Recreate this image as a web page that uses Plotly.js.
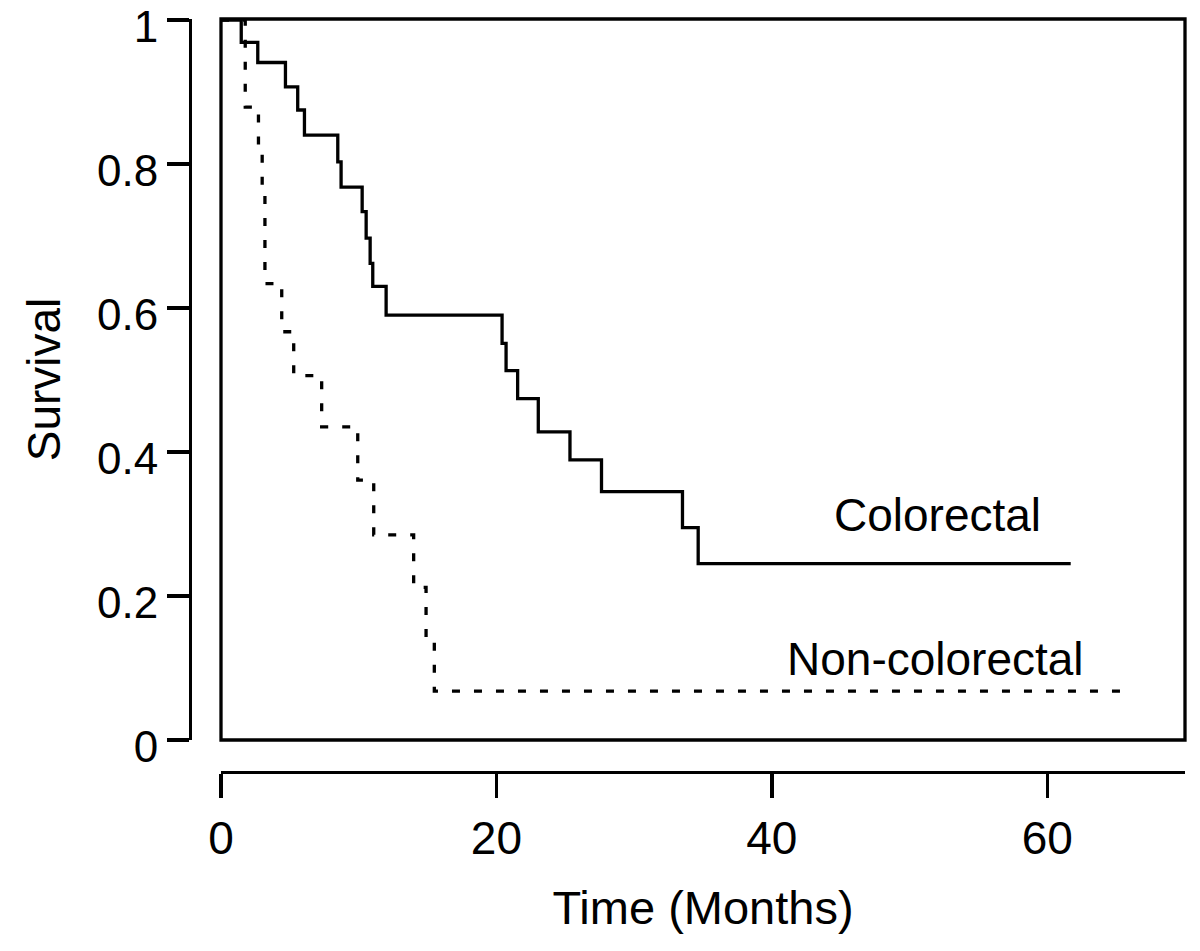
<!DOCTYPE html>
<html><head><meta charset="utf-8">
<script src="https://cdn.plot.ly/plotly-3.0.1.min.js"></script>
<style>html,body{margin:0;padding:0;background:#fff}</style>
</head><body><div id="chart" style="width:1200px;height:951px"></div>
<script>
// Kaplan-Meier step data
const colorectalTime = [0, 1.47, 2.67, 4.68, 5.57, 6.06, 8.48, 8.72, 10.25, 10.54, 10.83, 11.02, 11.99, 20.41, 20.70, 21.54, 23.04, 25.34, 27.63, 33.51, 34.65, 61.7];
const colorectalSurv = [1, 0.969, 0.941, 0.907, 0.875, 0.840, 0.803, 0.768, 0.734, 0.697, 0.662, 0.630, 0.590, 0.551, 0.513, 0.474, 0.428, 0.389, 0.345, 0.295, 0.245, 0.245];
const nonColorectalTime = [0, 1.76, 2.72, 2.99, 3.19, 4.41, 5.28, 7.31, 9.93, 11.09, 13.99, 14.89, 15.49, 65.3];
const nonColorectalSurv = [1, 0.879, 0.817, 0.761, 0.634, 0.567, 0.506, 0.435, 0.361, 0.285, 0.212, 0.139, 0.068, 0.068];
const xTickVals = [0, 20, 40, 60];
const xTickText = ['0', '20', '40', '60'];
const yTickVals = [0, 0.2, 0.4, 0.6, 0.8, 1];
const yTickText = ['0', '0.2', '0.4', '0.6', '0.8', '1'];
const seriesLabels = ['Colorectal', 'Non-colorectal'];

const FONT = 'Arial, "Liberation Sans", sans-serif';
const traces = [
  {x: colorectalTime, y: colorectalSurv, type: 'scatter', mode: 'lines', name: seriesLabels[0],
   line: {shape: 'hv', color: '#000', width: 3.3}, hoverinfo: 'skip'},
  {x: nonColorectalTime, y: nonColorectalSurv, type: 'scatter', mode: 'lines', name: seriesLabels[1],
   line: {shape: 'hv', color: '#000', width: 3.3, dash: '8px,14px'}, hoverinfo: 'skip'}
];

const layout = {
  width: 1200, height: 951,
  margin: {l: 0, r: 0, t: 0, b: 0},
  showlegend: false,
  paper_bgcolor: '#fff', plot_bgcolor: '#fff',
  font: {family: FONT, color: '#000', size: 46},
  xaxis: {
    domain: [221 / 1200, 1185 / 1200], range: [0, 70],
    anchor: 'free', position: (951 - 772) / 951,
    showline: true, linewidth: 3.3, linecolor: '#000',
    ticks: 'outside', ticklen: 24, tickwidth: 3.3, tickcolor: '#000',
    tickvals: xTickVals, ticktext: xTickText, ticklabeloverflow: 'allow',
    tickfont: {size: 46, family: FONT, color: '#000'},
    showgrid: false, zeroline: false, automargin: false, fixedrange: true,
    title: {text: 'Time (Months)', font: {size: 47, family: FONT, color: '#000'}, standoff: 28}
  },
  yaxis: {
    domain: [(951 - 740) / 951, (951 - 19) / 951], range: [0, 1.0014],
    anchor: 'free', position: 190 / 1200,
    showline: true, linewidth: 3.3, linecolor: '#000',
    ticks: 'outside', ticklen: 22, tickwidth: 3.3, tickcolor: '#000',
    tickvals: yTickVals, ticktext: yTickText, ticklabeloverflow: 'allow',
    ticklabelshift: 7,
    tickfont: {size: 44, family: FONT, color: '#000'},
    showgrid: false, zeroline: false, automargin: false, fixedrange: true,
    title: {text: 'Survival', font: {size: 46, family: FONT, color: '#000'}, standoff: 20}
  },
  shapes: [
    {type: 'rect', xref: 'x domain', yref: 'y domain', x0: 0, x1: 1, y0: 0, y1: 1,
     line: {width: 3.3, color: '#000'}, layer: 'above'}
  ],
  annotations: [
    {x: 52.0, y: 0.3125, xref: 'x', yref: 'y', text: seriesLabels[0], showarrow: false,
     xanchor: 'center', yanchor: 'middle', font: {size: 46, family: FONT, color: '#000'}},
    {x: 51.9, y: 0.1125, xref: 'x', yref: 'y', text: seriesLabels[1], showarrow: false,
     xanchor: 'center', yanchor: 'middle', font: {size: 46, family: FONT, color: '#000'}}
  ]
};

Plotly.newPlot('chart', traces, layout, {displayModeBar: false, staticPlot: true});
</script>
</body></html>
